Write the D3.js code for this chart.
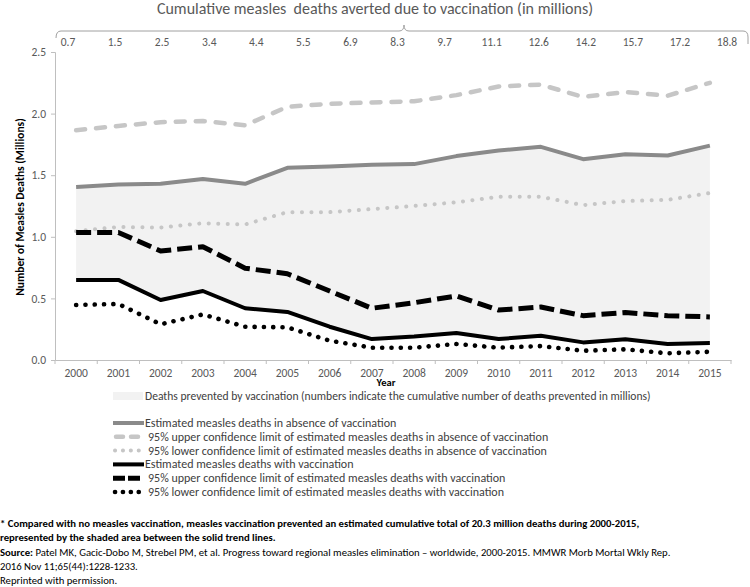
<!DOCTYPE html>
<html><head><meta charset="utf-8">
<script src="https://cdn.jsdelivr.net/npm/d3@7"></script>
<style>
body{margin:0;background:#fff;}
svg{display:block;font-family:Carlito, Lato, sans-serif;}
</style></head><body>
<svg id="c" width="750" height="587"></svg>
<script>
const years = ["2000","2001","2002","2003","2004","2005","2006","2007","2008","2009","2010","2011","2012","2013","2014","2015"];
const absence      = [1.405,1.425,1.43,1.47,1.43,1.56,1.57,1.585,1.59,1.655,1.70,1.73,1.63,1.67,1.66,1.74];
const absenceUpper = [1.865,1.90,1.93,1.94,1.905,2.055,2.08,2.09,2.10,2.15,2.22,2.235,2.135,2.175,2.145,2.25];
const absenceLower = [1.045,1.08,1.075,1.11,1.10,1.20,1.20,1.225,1.25,1.28,1.325,1.325,1.257,1.29,1.30,1.355];
const withVacc      = [0.65,0.65,0.487,0.56,0.42,0.39,0.27,0.17,0.19,0.22,0.17,0.197,0.143,0.168,0.13,0.138];
const withVaccUpper = [1.035,1.035,0.885,0.92,0.745,0.70,0.56,0.42,0.465,0.52,0.405,0.43,0.36,0.385,0.36,0.35];
const withVaccLower = [0.446,0.455,0.29,0.37,0.27,0.265,0.157,0.10,0.10,0.13,0.10,0.113,0.075,0.087,0.054,0.067];
const cumulativeLabels = ["0.7","1.5","2.5","3.4","4.4","5.5","6.9","8.3","9.7","11.1","12.6","14.2","15.7","17.2","18.8"];
const yTicks = [0,0.5,1.0,1.5,2.0,2.5];

const svg = d3.select("#c");
const x = d3.scaleBand().domain(years).range([55,731]);
const y = d3.scaleLinear().domain([0,2.5]).range([360,52]);
const cx = d => x(d) + x.bandwidth()/2;

// shaded area
const area = d3.area().x((d,i)=>cx(years[i])).y0((d,i)=>y(withVacc[i])).y1(d=>y(d));
svg.append("path").attr("d", area(absence)).attr("fill","#f2f2f2");

// axes
const yAxis = svg.append("g").attr("transform","translate(55,0)")
  .call(d3.axisLeft(y).tickValues(yTicks).tickFormat(d3.format(".1f")).tickSize(4).tickPadding(5));
const xAxis = svg.append("g").attr("transform","translate(0,360)")
  .call(d3.axisBottom(x).tickSize(0).tickPadding(9));
[yAxis,xAxis].forEach(g=>{
  g.select(".domain").attr("stroke","#bfbfbf");
  g.selectAll(".tick line").attr("stroke","#bfbfbf");
  g.selectAll("text").attr("fill","#595959").style("font-size","11.5px").style("font-family","Carlito, Lato, sans-serif");
});
// x boundary ticks
xAxis.selectAll(".bt").data(years.concat(["end"])).enter().append("line")
  .attr("x1",(d,i)=> i<years.length ? x(d) : x(years[years.length-1])+x.bandwidth())
  .attr("x2",(d,i)=> i<years.length ? x(d) : x(years[years.length-1])+x.bandwidth())
  .attr("y1",0).attr("y2",4).attr("stroke","#bfbfbf");

// lines
const line = d3.line().x((d,i)=>cx(years[i])).y(d=>y(d));
const series = [
  {v:absenceUpper, c:"#c6c6c6", w:4.5, dash:"9,11", cap:"round"},
  {v:absenceLower, c:"#c6c6c6", w:4, dash:"0.1,9.4", cap:"round"},
  {v:absence, c:"#8a8a8a", w:4, dash:null, cap:"butt"},
  {v:withVaccUpper, c:"#000", w:5, dash:"15,6", cap:"butt"},
  {v:withVaccLower, c:"#000", w:4.6, dash:"0.1,9.2", cap:"round"},
  {v:withVacc, c:"#000", w:4, dash:null, cap:"butt"}
];
series.forEach(s=>{
  svg.append("path").attr("d",line(s.v)).attr("fill","none").attr("stroke",s.c)
    .attr("stroke-width",s.w).attr("stroke-dasharray",s.dash).attr("stroke-linecap",s.cap)
    .attr("stroke-linejoin","round");
});

// axis titles
svg.append("text").attr("transform","translate(24,207) rotate(-90)").attr("text-anchor","middle")
  .style("font-size","11.5px").style("font-weight","bold").attr("fill","#000")
  .text("Number of Measles Deaths (Millions)");
svg.append("text").attr("x",386).attr("y",386).attr("text-anchor","middle")
  .style("font-size","10.5px").style("font-weight","bold").attr("fill","#000").text("Year");

// top cumulative axis
const topScale = d3.scalePoint().domain(cumulativeLabels).range([68,727]);
svg.append("g").selectAll("text").data(cumulativeLabels).enter().append("text")
  .attr("x",d=>topScale(d)).attr("y",46).attr("text-anchor","middle")
  .attr("fill","#595959").style("font-size","11.5px").text(d=>d);
svg.append("path")
  .attr("d","M56,38 Q56,31 61,31 H399 Q404,31 404,25 Q404,31 409,31 H743 Q748,31 748,37 V44")
  .attr("fill","none").attr("stroke","#a0a0a0").attr("stroke-width",1);
svg.append("text").attr("x",375).attr("y",14).attr("text-anchor","middle")
  .style("white-space","pre").style("font-size","16px").attr("fill","#595959")
  .text("Cumulative measles  deaths averted due to vaccination (in millions)");

// legend
const lg = svg.append("g");
lg.append("rect").attr("x",113).attr("y",392).attr("width",30).attr("height",8).attr("fill","#f2f2f2");
lg.append("text").attr("x",145).attr("y",400).style("font-size","11.6px").attr("fill","#404040")
  .text("Deaths prevented by vaccination (numbers indicate the cumulative number of deaths prevented in millions)");
const legendItems = [
  {t:"Estimated measles deaths in absence of vaccination", s:series[2], solid:true},
  {t:"95% upper confidence limit of estimated measles deaths in absence of vaccination", s:series[0]},
  {t:"95% lower confidence limit of estimated measles deaths in absence of vaccination", s:series[1]},
  {t:"Estimated measles deaths with vaccination", s:series[5], solid:true},
  {t:"95% upper confidence limit of estimated measles deaths with vaccination", s:series[3]},
  {t:"95% lower confidence limit of estimated measles deaths with vaccination", s:series[4]}
];
const legY = d3.scalePoint().domain(d3.range(legendItems.length)).range([423,492]);
legendItems.forEach((it,i)=>{
  const yy = legY(i);
  let x1=113,x2=144,dash=null;
  if(!it.solid){
    if(it.s.cap==="round" && it.s.dash.startsWith("0.1")){x1=115;x2=139;dash="0.1,7.8";}
    else if(it.s.cap==="round"){x1=116;x2=138;dash="7,8";}
    else {x1=113;x2=140;dash="12,3";}
  }
  lg.append("line").attr("x1",x1).attr("x2",x2).attr("y1",yy).attr("y2",yy)
    .attr("stroke",it.s.c).attr("stroke-width",it.s.w).attr("stroke-dasharray",dash)
    .attr("stroke-linecap",it.s.cap);
  lg.append("text").attr("x",it.solid?145:148).attr("y",yy+4).style("font-size","12px")
    .attr("fill","#404040").text(it.t);
});

// footnote
const fn = svg.append("g").style("font-size","10.7px").attr("fill","#000");
const fy = d3.scalePoint().domain(d3.range(5)).range([527,584]);
fn.append("text").attr("x",0).attr("y",fy(0)).style("font-weight","bold")
  .text("* Compared with no measles vaccination, measles vaccination prevented an estimated cumulative total of 20.3 million deaths during 2000-2015,");
fn.append("text").attr("x",0).attr("y",fy(1)).style("font-weight","bold")
  .text("represented by the shaded area between the solid trend lines.");
const src = fn.append("text").attr("x",0).attr("y",fy(2));
src.append("tspan").style("font-weight","bold").text("Source:");
src.append("tspan").text(" Patel MK, Gacic-Dobo M, Strebel PM, et al. Progress toward regional measles elimination \u2013 worldwide, 2000-2015. MMWR Morb Mortal Wkly Rep.");
fn.append("text").attr("x",0).attr("y",fy(3)).text("2016 Nov 11;65(44):1228-1233.");
fn.append("text").attr("x",0).attr("y",fy(4)).text("Reprinted with permission.");
</script>
</body></html>
